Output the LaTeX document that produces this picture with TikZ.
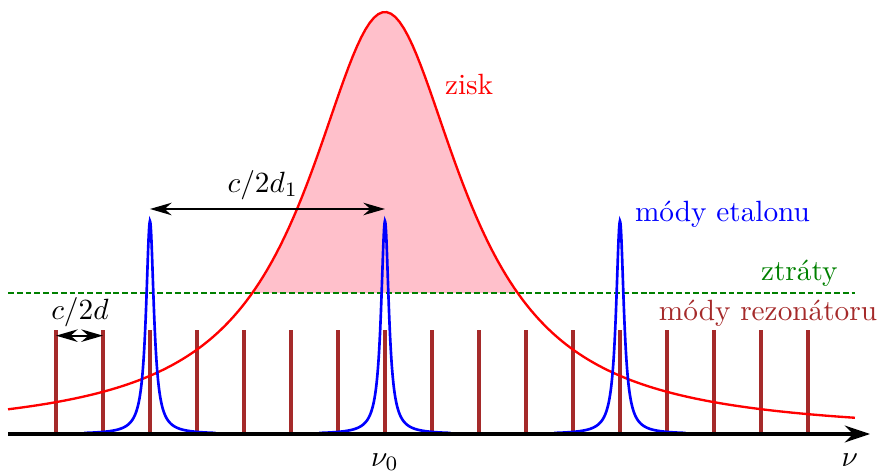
\documentclass[tikz,border=0pt]{standalone}
\usepackage{xcolor}
\definecolor{gaincol}{HTML}{FF0000}
\definecolor{gainfill}{HTML}{FFC0CB}
\definecolor{etaloncol}{HTML}{0000FF}
\definecolor{losscol}{HTML}{008000}
\definecolor{modecol}{HTML}{A52A2A}
\usepackage{tikz}
\usetikzlibrary{arrows.meta, positioning, calc}

\begin{document}
\begin{tikzpicture}[x=0.564cm, y=1cm, >=Stealth,
    modeline/.style={draw=modecol, line width=1.3pt},
    etalonline/.style={draw=etaloncol, line width=0.9pt},
    gainline/.style={draw=gaincol, line width=0.8pt},
    lossline/.style={draw=losscol, line width=0.7pt, dash pattern=on 2pt off 1pt},
    spacing/.style={<->, line width=0.7pt, >={Stealth[length=2.6mm, width=1.5mm]}}]
  \useasboundingbox (-8.191,-0.444) rectangle (10.532,5.208);

  % gain above losses
  \fill[gainfill, domain=-2.823:2.823, samples=100]
    plot (\x, {5.064/(1+(\x/2)^2)}) -- cycle;

  % losses
  \coordinate (lossL) at (-8.02,1.692);
  \coordinate (lossR) at (10,1.692);
  \draw[lossline] (lossL) -- (lossR);

  % resonator modes
  \foreach \k in {-7,...,9} {
    \coordinate (m\k) at (\k,0);
    \coordinate (t\k) at (\k,1.248);
    \draw[modeline] (m\k) -- (t\k);
  }

  % gain curve
  \draw[gainline, domain=-8.02:10, samples=200]
    plot (\x, {5.064/(1+(\x/2)^2)});

  % etalon modes
  \foreach \c in {-5,0,5} {
    \draw[etalonline, domain=\c-1.4:\c+1.4, samples=301]
      plot (\x, {2.556/(1+((\x-\c)/0.1)^2)});
  }

  % axis
  \coordinate (ax0) at (-8.02,0);
  \coordinate (ax1) at (10.32,0);
  \draw[->, line width=1.2pt, >={Stealth[length=3mm, width=2mm]}] (ax0) -- (ax1);
  \node (nu0) at (0,-0.336) {$\nu_0$};
  \node (nu) at (9.89,-0.31) {$\nu$};

  % spacings
  \coordinate (e1) at (-5,2.7);
  \coordinate (e2) at (0,2.7);
  \draw[spacing] (e1) -- (e2);
  \node (fsr1) at (-2.6,2.99) {$c/2d_1$};
  \coordinate (r1) at (-7,1.18);
  \coordinate (r2) at (-6,1.18);
  \draw[spacing] (r1) -- (r2);
  \node (fsr) at (-6.49,1.46) {$c/2d$};

  % labels
  \node[text=gaincol] (zisk) at (1.79,4.19) {zisk};
  \node[text=etaloncol, anchor=west] (etalon) at (5.1,2.64) {módy etalonu};
  \node[text=losscol, anchor=east] (ztraty) at (9.85,1.93) {ztráty};
  \node[text=modecol] (rezon) at (8.15,1.45) {módy rezonátoru};
\end{tikzpicture}
\end{document}
